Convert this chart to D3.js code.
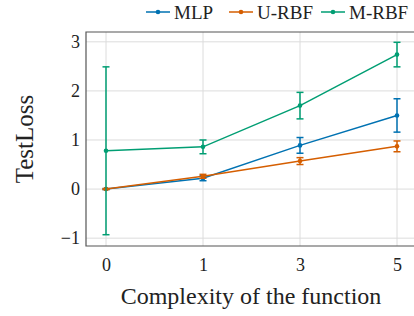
<!DOCTYPE html>
<meta charset="utf-8">
<style>
    body { margin: 0; background: #fff; }
    text { font-family: "Liberation Serif", "DejaVu Serif", serif; fill: #222; }
    .grid line { stroke: #dcdcdc; stroke-width: 1px; }
    .tick text { font-size: 18px; fill: #222; }
    .frame { fill: none; stroke: #555; stroke-width: 1.2px; }
</style>
<body>
<script src="https://d3js.org/d3.v7.min.js"></script>
<script>
    var categories = ["0", "1", "3", "5"];
    var yTicks = [-1, 0, 1, 2, 3];

    var mlp = [0, 0.22, 0.89, 1.5];
    var mlpErr = [0.01, 0.05, 0.16, 0.34];
    var urbf = [0, 0.26, 0.57, 0.87];
    var urbfErr = [0.01, 0.04, 0.07, 0.11];
    var mrbf = [0.78, 0.86, 1.7, 2.74];
    var mrbfErr = [1.71, 0.14, 0.27, 0.25];

    var series = [
        { name: "MLP", color: "#0072B2", values: mlp, err: mlpErr },
        { name: "U-RBF", color: "#D55E00", values: urbf, err: urbfErr },
        { name: "M-RBF", color: "#009E73", values: mrbf, err: mrbfErr }
    ];

    var width = 414, height = 316;
    var plotL = 86, plotT = 32, plotR = 414, plotB = 246;

    var svg = d3.select("body").append("svg").attr("width", width).attr("height", height);

    var x = d3.scalePoint().domain(categories).range([106, 397]);
    var y = d3.scaleLinear().domain([-1.16, 3.2]).range([plotB, plotT]);

    // grid
    var grid = svg.append("g").attr("class", "grid");
    grid.selectAll(".gx").data(categories).enter().append("line")
        .attr("x1", d => x(d)).attr("x2", d => x(d)).attr("y1", plotT).attr("y2", plotB);
    grid.selectAll(".gy").data(yTicks).enter().append("line")
        .attr("x1", plotL).attr("x2", plotR).attr("y1", d => y(d)).attr("y2", d => y(d));

    // axes
    var xAxis = svg.append("g").attr("transform", "translate(0," + plotB + ")")
        .call(d3.axisBottom(x).tickSize(0).tickPadding(12));
    xAxis.select(".domain").remove();
    var yAxis = svg.append("g").attr("transform", "translate(" + plotL + ",0)")
        .call(d3.axisLeft(y).tickValues(yTicks).tickSize(0).tickPadding(6)
            .tickFormat(d => d < 0 ? "\u2212" + Math.abs(d) : d));
    yAxis.select(".domain").remove();
    svg.selectAll(".tick text").style("font-family", "Liberation Serif, serif");

    // series
    series.forEach(function(s) {
        var g = svg.append("g");
        var pts = s.values.map((v, i) => ({ c: categories[i], v: v, e: s.err[i] }));
        g.append("path").datum(pts)
            .attr("fill", "none").attr("stroke", s.color).attr("stroke-width", 1.5)
            .attr("d", d3.line().x(d => x(d.c)).y(d => y(d.v)));
        var eb = g.selectAll(".eb").data(pts).enter().append("g").attr("stroke", s.color).attr("stroke-width", 1.5);
        eb.append("line").attr("x1", d => x(d.c)).attr("x2", d => x(d.c))
            .attr("y1", d => y(d.v - d.e)).attr("y2", d => y(d.v + d.e));
        eb.append("line").attr("x1", d => x(d.c) - 3.5).attr("x2", d => x(d.c) + 3.5)
            .attr("y1", d => y(d.v - d.e)).attr("y2", d => y(d.v - d.e));
        eb.append("line").attr("x1", d => x(d.c) - 3.5).attr("x2", d => x(d.c) + 3.5)
            .attr("y1", d => y(d.v + d.e)).attr("y2", d => y(d.v + d.e));
        g.selectAll("circle").data(pts).enter().append("circle")
            .attr("cx", d => x(d.c)).attr("cy", d => y(d.v)).attr("r", 2.3).attr("fill", s.color);
    });

    // frame
    svg.append("path").attr("class", "frame")
        .attr("d", "M" + plotR + "," + plotT + "H" + plotL + "V" + plotB + "H" + plotR);

    // labels
    svg.append("text").attr("x", 251).attr("y", 304).attr("text-anchor", "middle")
        .style("font-size", "24px").text("Complexity of the function");
    svg.append("text").attr("transform", "translate(33,139) rotate(-90)").attr("text-anchor", "middle")
        .style("font-size", "25px").text("TestLoss");

    // legend
    var legX = [146, 229, 321];
    series.forEach(function(s, i) {
        var lg = svg.append("g").attr("transform", "translate(" + legX[i] + ",12)");
        lg.append("line").attr("x1", 0).attr("x2", 24).attr("stroke", s.color).attr("stroke-width", 1.5);
        lg.append("circle").attr("cx", 12).attr("r", 2.3).attr("fill", s.color);
        lg.append("text").attr("x", 28).attr("y", 7).style("font-size", "19px").text(s.name);
    });
</script>
</body>
